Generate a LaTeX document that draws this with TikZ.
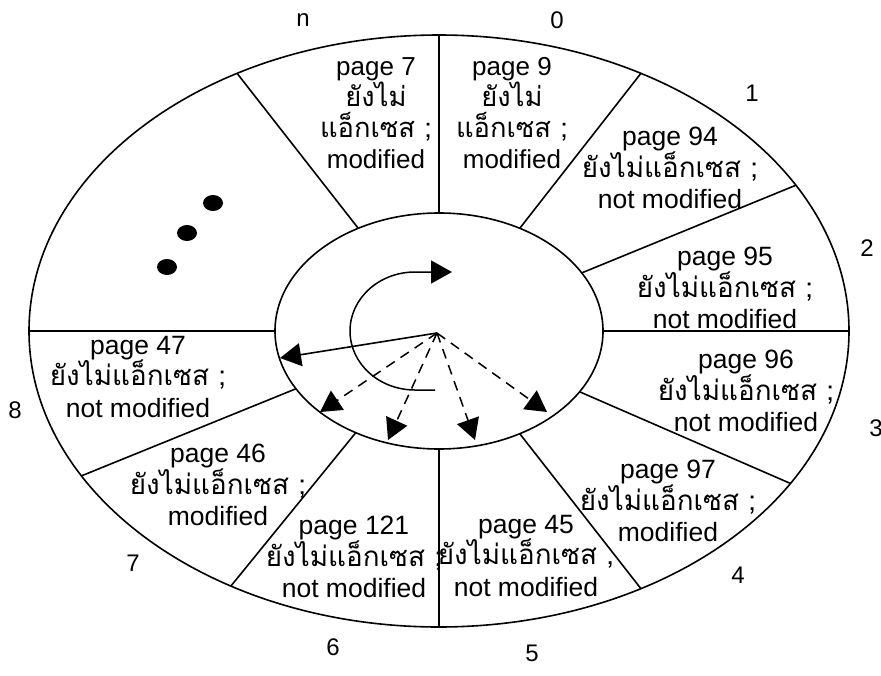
\documentclass[tikz,border=0pt]{standalone}
\usepackage{fontspec}
\setmainfont{Liberation Sans}
\newfontfamily\thaifont[Script=Thai,Scale=1.05]{Loma}
\usetikzlibrary{arrows.meta}
\newcommand{\thx}[1]{{\thaifont #1}}
\begin{document}
\begin{tikzpicture}[x=1pt,y=-1pt,
  ring/.style={line width=1.6pt},
  lbl/.style={font=\fontsize{26.5}{31.5}\selectfont, align=center, inner sep=0pt},
  lblfour/.style={font=\fontsize{26}{31}\selectfont, align=center, inner sep=0pt},
  num/.style={font=\fontsize{24}{28}\selectfont, inner sep=0pt},
  tip/.style={-{Triangle[length=21pt,width=23pt]}},
  dashline/.style={line width=1.5pt, dash pattern=on 10pt off 7pt}]
\useasboundingbox (0,0) rectangle (881,675);
\fill[white] (0,0) rectangle (881,675);
\coordinate (C) at (439,331);
% rings
\draw[ring] (C) ellipse [x radius=410, y radius=296];
\draw[ring] (C) ellipse [x radius=164, y radius=118];
% spokes
\foreach \t in {-119.5,-90,-60.5,-29.5,0,31,60.5,90,120.5,150.7,180}
  \draw[ring] ([shift={(C)}]\t:164 and 118) -- ([shift={(C)}]\t:410 and 296);
% dots
\fill (213,203) ellipse [x radius=10, y radius=8];
\fill (187,233) ellipse [x radius=10, y radius=8];
\fill (167,267) ellipse [x radius=10, y radius=8];
% hand arrows
\coordinate (P) at (437,333);
\coordinate (A1) at (280,358);
\coordinate (D1) at (320,412);
\coordinate (D2) at (388,440);
\coordinate (D3) at (475,440);
\coordinate (D4) at (547,412);
\coordinate (Cs) at (435,390);
\coordinate (Ce) at (452,272);
\draw[ring, tip] (P) -- (A1);
\draw[dashline, tip] (P) -- (D1);
\draw[dashline, tip] (P) -- (D2);
\draw[dashline, tip] (P) -- (D3);
\draw[dashline, tip] (P) -- (D4);
\draw[line width=1.5pt, tip] (Cs) -- (415,390) arc[start angle=90, end angle=270, x radius=65, y radius=59] -- (Ce);
% sector texts
\node[lblfour] (p7) at (376,113) {page 7\\\thx{ยังไม่}\\\thx{แอ็กเซส ;}\\modified};
\node[lblfour] (p9) at (512,113) {page 9\\\thx{ยังไม่}\\\thx{แอ็กเซส ;}\\modified};
\node[lbl] (p94) at (670,168) {page 94\\\thx{ยังไม่แอ็กเซส ;}\\not modified};
\node[lbl] (p95) at (725,288) {page 95\\\thx{ยังไม่แอ็กเซส ;}\\not modified};
\node[lbl] (p96) at (746,391) {page 96\\\thx{ยังไม่แอ็กเซส ;}\\not modified};
\node[lbl] (p97) at (668,501) {page 97\\\thx{ยังไม่แอ็กเซส ;}\\modified};
\node[lbl] (p45) at (526,556) {page 45\\\thx{ยังไม่แอ็กเซส ,}\\not modified};
\node[lbl] (p121) at (354,557) {page 121\\\thx{ยังไม่แอ็กเซส ;}\\not modified};
\node[lbl] (p46) at (218,485) {page 46\\\thx{ยังไม่แอ็กเซส ;}\\modified};
\node[lbl] (p47) at (138,377) {page 47\\\thx{ยังไม่แอ็กเซส ;}\\not modified};
% slot numbers
\node[num] (nn) at (303,20) {n};
\node[num] (n0) at (557,20) {0};
\node[num] (n1) at (752,93) {1};
\node[num] (n2) at (867,248) {2};
\node[num] (n3) at (876,428) {3};
\node[num] (n4) at (738,575) {4};
\node[num] (n5) at (532,653) {5};
\node[num] (n6) at (333,647) {6};
\node[num] (n7) at (133,563) {7};
\node[num] (n8) at (15,410) {8};
\end{tikzpicture}
\end{document}
